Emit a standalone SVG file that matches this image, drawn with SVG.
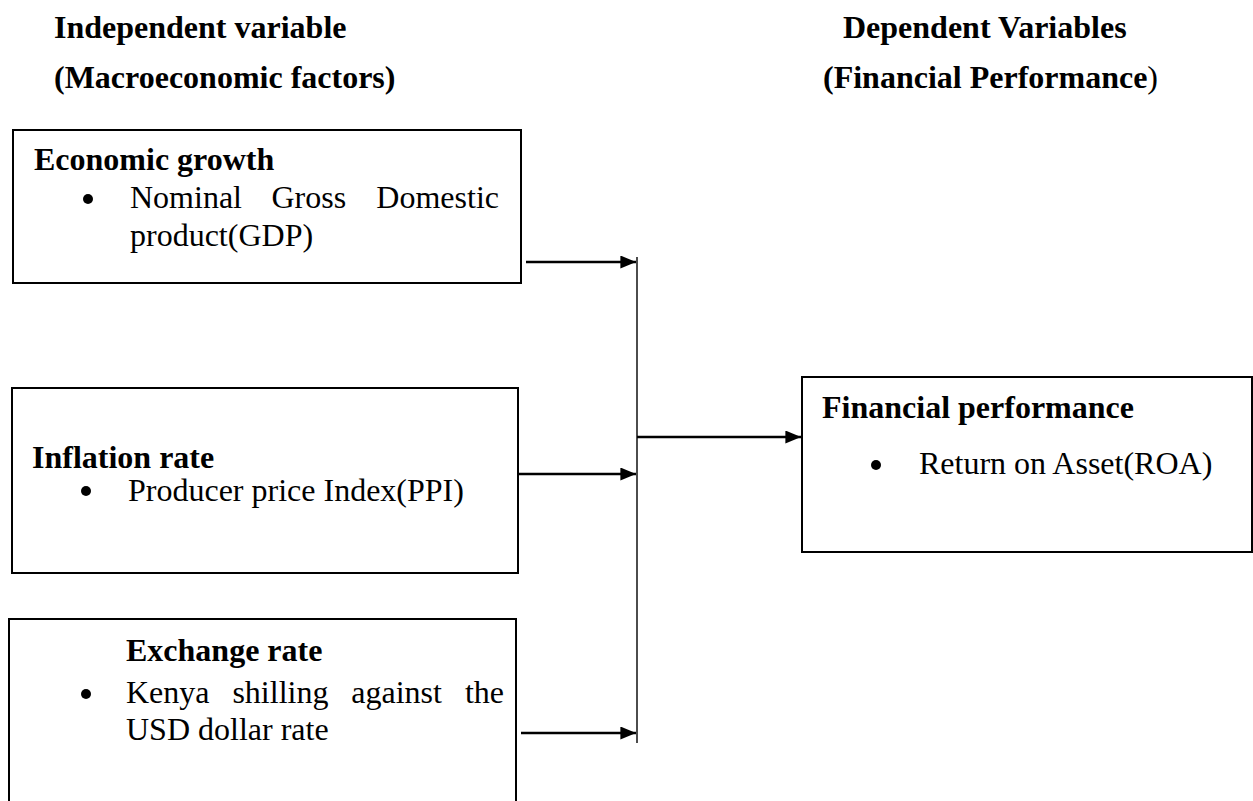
<svg xmlns="http://www.w3.org/2000/svg" width="1253" height="801" viewBox="0 0 1253 801">
<defs>
<style>
text{font-family:"Liberation Serif","Times New Roman",serif;font-size:32px;fill:#000}
.b{font-weight:bold}
.box{fill:#fff;stroke:#000;stroke-width:2}
.conn{stroke:#000;stroke-width:2.6;fill:none}
.vline{stroke:#000;stroke-width:1.4;fill:none}
</style>
<marker id="ah" markerWidth="6" markerHeight="5" refX="6" refY="2.5" orient="auto" markerUnits="strokeWidth">
<path d="M0,0 L6,2.5 L0,5 Z" fill="#000"/>
</marker>
</defs>
<rect width="1253" height="801" fill="#fff"/>
<g id="headings">
<text class="b" x="54" y="38">Independent variable</text>
<text class="b" x="54" y="88">(Macroeconomic factors)</text>
<text class="b" x="843" y="38">Dependent Variables</text>
<text class="b" x="823" y="88">(Financial Performance<tspan font-weight="normal">)</tspan></text>
</g>
<g id="economic-growth">
<rect class="box" x="13" y="130" width="508" height="153"/>
<text class="b" x="34" y="170">Economic growth</text>
<circle cx="88" cy="199" r="5"/>
<text x="130" y="208">Nominal</text>
<text x="271.5" y="208">Gross</text>
<text x="499" y="208" text-anchor="end">Domestic</text>
<text x="130" y="246">product(GDP)</text>
</g>
<g id="inflation-rate">
<rect class="box" x="12" y="388" width="506" height="185"/>
<text class="b" x="32" y="468">Inflation rate</text>
<circle cx="86" cy="491" r="5"/>
<text x="128" y="501">Producer price Index(PPI)</text>
</g>
<g id="exchange-rate">
<rect class="box" x="9" y="619" width="507" height="200"/>
<text class="b" x="126" y="661">Exchange rate</text>
<circle cx="86" cy="694" r="5"/>
<text x="126" y="703">Kenya</text>
<text x="232.4" y="703">shilling</text>
<text x="351.3" y="703">against</text>
<text x="504" y="703" text-anchor="end">the</text>
<text x="126" y="740">USD dollar rate</text>
</g>
<g id="financial-performance">
<rect class="box" x="802" y="377" width="450" height="175"/>
<text class="b" x="822" y="418">Financial performance</text>
<circle cx="876" cy="465" r="5"/>
<text x="919" y="474">Return on Asset(ROA)</text>
</g>
<g id="connectors">
<line class="vline" x1="637" y1="257" x2="637" y2="743"/>
<line class="conn" x1="526" y1="262" x2="636" y2="262" marker-end="url(#ah)"/>
<line class="conn" x1="518" y1="474" x2="636" y2="474" marker-end="url(#ah)"/>
<line class="conn" x1="521" y1="733" x2="636" y2="733" marker-end="url(#ah)"/>
<line class="conn" x1="637" y1="437" x2="801" y2="437" marker-end="url(#ah)"/>
</g>
</svg>
